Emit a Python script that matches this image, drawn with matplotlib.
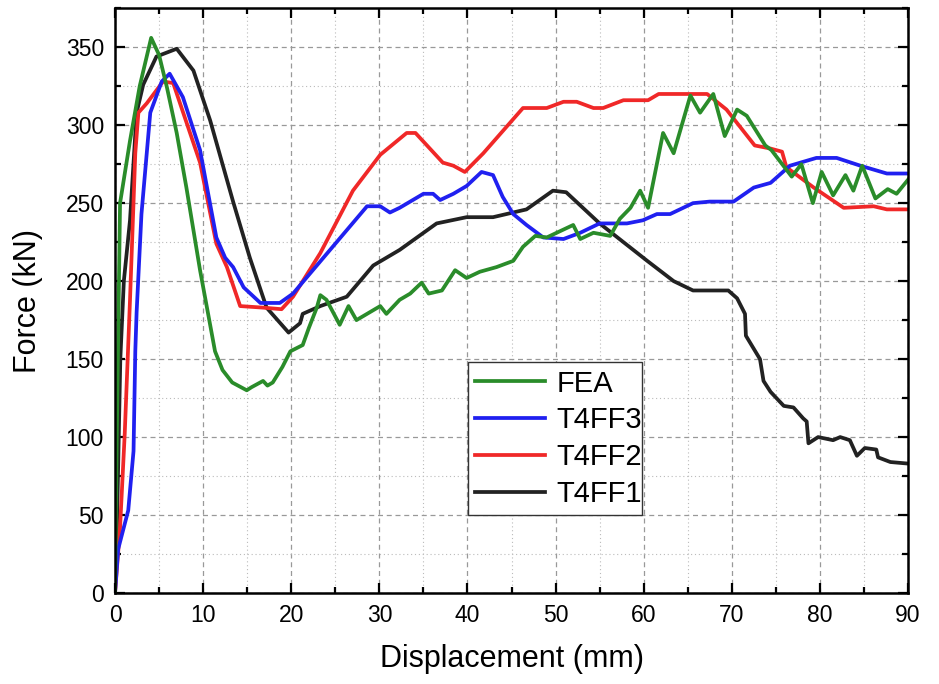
import matplotlib.pyplot as plt
from matplotlib.ticker import MultipleLocator

plt.rcParams['font.family'] = ['Liberation Sans', 'DejaVu Sans']

# FEA
fea_x = [0, 0.2, 0.57, 1.7, 2.8, 4.1, 5.0, 5.9, 7.0, 8.1, 9.65, 11.35, 12.2, 13.3, 14.95, 15.5,
         16.8, 17.3, 17.9, 19.0, 19.9, 21.3, 22.0, 22.9, 23.3, 24.0, 25.5, 26.5, 27.4, 28.6,
         30.1, 30.8, 32.3, 33.5, 34.8, 35.6, 37.1, 38.6, 39.9, 41.4, 43.3, 45.2, 46.3, 47.7,
         49.0, 50.5, 52.0, 52.8, 54.3, 56.2, 57.3, 58.5, 59.6, 60.5, 62.2, 63.4, 65.3, 66.4,
         67.9, 69.2, 70.6, 71.7, 73.8, 74.5, 76.8, 77.9, 79.2, 80.2, 81.5, 82.9, 83.8, 84.8,
         86.3, 87.7, 88.7, 90.0]
fea_y = [0, 100, 250, 290, 325, 356, 345, 324, 295, 260, 207, 155, 143, 135, 130, 132,
         136, 133, 135, 145, 155, 159, 170, 183, 191, 188, 172, 184, 175, 179,
         184, 179, 188, 192, 199, 192, 194, 207, 202, 206, 209, 213, 222, 229,
         228, 232, 236, 227, 231, 229, 240, 247, 258, 247, 295, 282, 319, 308,
         320, 293, 310, 306, 287, 284, 267, 275, 250, 270, 255, 268, 258, 274,
         253, 259, 256, 265]

# T4FF3
ff3_x = [0, 0.35, 1.5, 2.1, 2.3, 2.45, 3.0, 4.0, 5.3, 6.2, 7.7, 9.65, 11.5, 12.5, 13.4,
         14.6, 16.5, 18.7, 20.2, 28.6, 30.1, 31.2, 32.3, 35.0, 36.1, 36.9, 38.4, 39.9, 41.6,
         42.9, 44.0, 45.2, 46.7, 48.6, 50.9, 52.8, 55.0, 58.1, 59.9, 61.5, 63.0, 65.6, 67.5,
         70.2, 72.5, 74.4, 76.6, 79.6, 81.9, 84.6, 87.6, 90.0]
ff3_y = [0, 28, 53, 91, 155, 180, 243, 308, 328, 333, 318, 284, 228, 215, 209,
         196, 186, 186, 192, 248, 248, 244, 247, 256, 256, 252, 256, 261, 270,
         268, 254, 243, 236, 228, 227, 231, 237, 237, 239, 243, 243, 250, 251,
         251, 260, 263, 274, 279, 279, 274, 269, 269]

# T4FF2
ff2_x = [0, 0.57, 1.1, 1.7, 2.3, 2.65, 3.6, 5.45, 6.6, 9.65, 11.5, 12.7, 14.2, 16.8, 18.9,
         20.2, 23.3, 27.0, 30.1, 33.1, 34.1, 37.2, 38.4, 39.7, 41.8, 46.3, 49.0, 50.9, 52.4,
         54.3, 55.4, 57.7, 60.5, 61.7, 67.2, 69.4, 72.6, 74.4, 75.7, 76.2, 79.3, 82.7, 86.1,
         87.6, 90.0]
ff2_y = [0, 42, 102, 188, 282, 308, 314, 328, 327, 276, 224, 209, 184, 183, 182,
         190, 218, 258, 281, 295, 295, 276, 274, 270, 282, 311, 311, 315, 315,
         311, 311, 316, 316, 320, 320, 310, 287, 285, 283, 273, 260, 247, 248,
         246, 246]

# T4FF1
ff1_x = [0, 0.2, 0.6, 1.0, 1.7, 2.45, 3.2, 4.7, 7.0, 8.9, 10.8, 13.4, 15.3, 17.2, 19.7,
         21.0, 21.3, 23.3, 26.3, 29.3, 32.3, 36.5, 39.9, 42.9, 46.7, 49.7, 51.2, 55.0, 60.4,
         63.4, 65.6, 69.6, 70.6, 71.5, 71.6, 73.2, 73.6, 74.4, 75.9, 77.0, 78.1, 78.5, 78.7,
         79.8, 81.5, 82.3, 83.4, 84.2, 85.1, 86.4, 86.6, 88.0, 90.0]
ff1_y = [0, 38, 150, 200, 239, 308, 326, 344, 349, 335, 303, 251, 215, 183, 167,
         173, 179, 184, 190, 210, 220, 237, 241, 241, 246, 258, 257, 237, 213,
         200, 194, 194, 189, 179, 165, 150, 136, 129, 120, 119, 112, 110, 96,
         100, 98, 100, 98, 88, 93, 92, 87, 84, 83]

fig = plt.figure(figsize=(9.39, 6.84), dpi=100)
ax = fig.add_axes([0.1225, 0.133, 0.8445, 0.855])

lw = 2.7
l1, = ax.plot(ff1_x, ff1_y, color='#222222', lw=lw, label='T4FF1')
l2, = ax.plot(ff2_x, ff2_y, color='#f02828', lw=lw, label='T4FF2')
l3, = ax.plot(ff3_x, ff3_y, color='#2020f0', lw=lw, label='T4FF3')
l0, = ax.plot(fea_x, fea_y, color='#2a8c2a', lw=lw, label='FEA')

ax.set_xlim(0, 90)
ax.set_ylim(0, 375)
ax.xaxis.set_major_locator(MultipleLocator(10))
ax.xaxis.set_minor_locator(MultipleLocator(5))
ax.yaxis.set_major_locator(MultipleLocator(50))
ax.yaxis.set_minor_locator(MultipleLocator(25))

ax.grid(which='major', linestyle=(0, (4, 3)), color='#999999', lw=0.9)
ax.grid(which='minor', linestyle=(0, (1, 2.5)), color='#bbbbbb', lw=0.8)
ax.set_axisbelow(True)

ax.tick_params(which='both', direction='in', top=True, right=True, width=1.6,
               labelsize=16.5, pad=8)
ax.tick_params(which='major', length=7)
ax.tick_params(which='minor', length=4)
for s in ax.spines.values():
    s.set_linewidth(1.8)

ax.set_xlabel('Displacement (mm)', fontsize=22, labelpad=12)
ax.set_ylabel('Force (kN)', fontsize=22, labelpad=16)

leg = ax.legend(handles=[l0, l3, l2, l1], loc='lower left',
                bbox_to_anchor=(0.445, 0.133, 0.219, 0.262), mode='expand',
                fontsize=21, handlelength=2.4, handletextpad=0.4, borderpad=0.25,
                labelspacing=0.3, fancybox=False, framealpha=1, borderaxespad=0)
leg.get_frame().set_edgecolor('#333333')
leg.get_frame().set_linewidth(1.0)

fig.savefig('out.png', dpi=100)
